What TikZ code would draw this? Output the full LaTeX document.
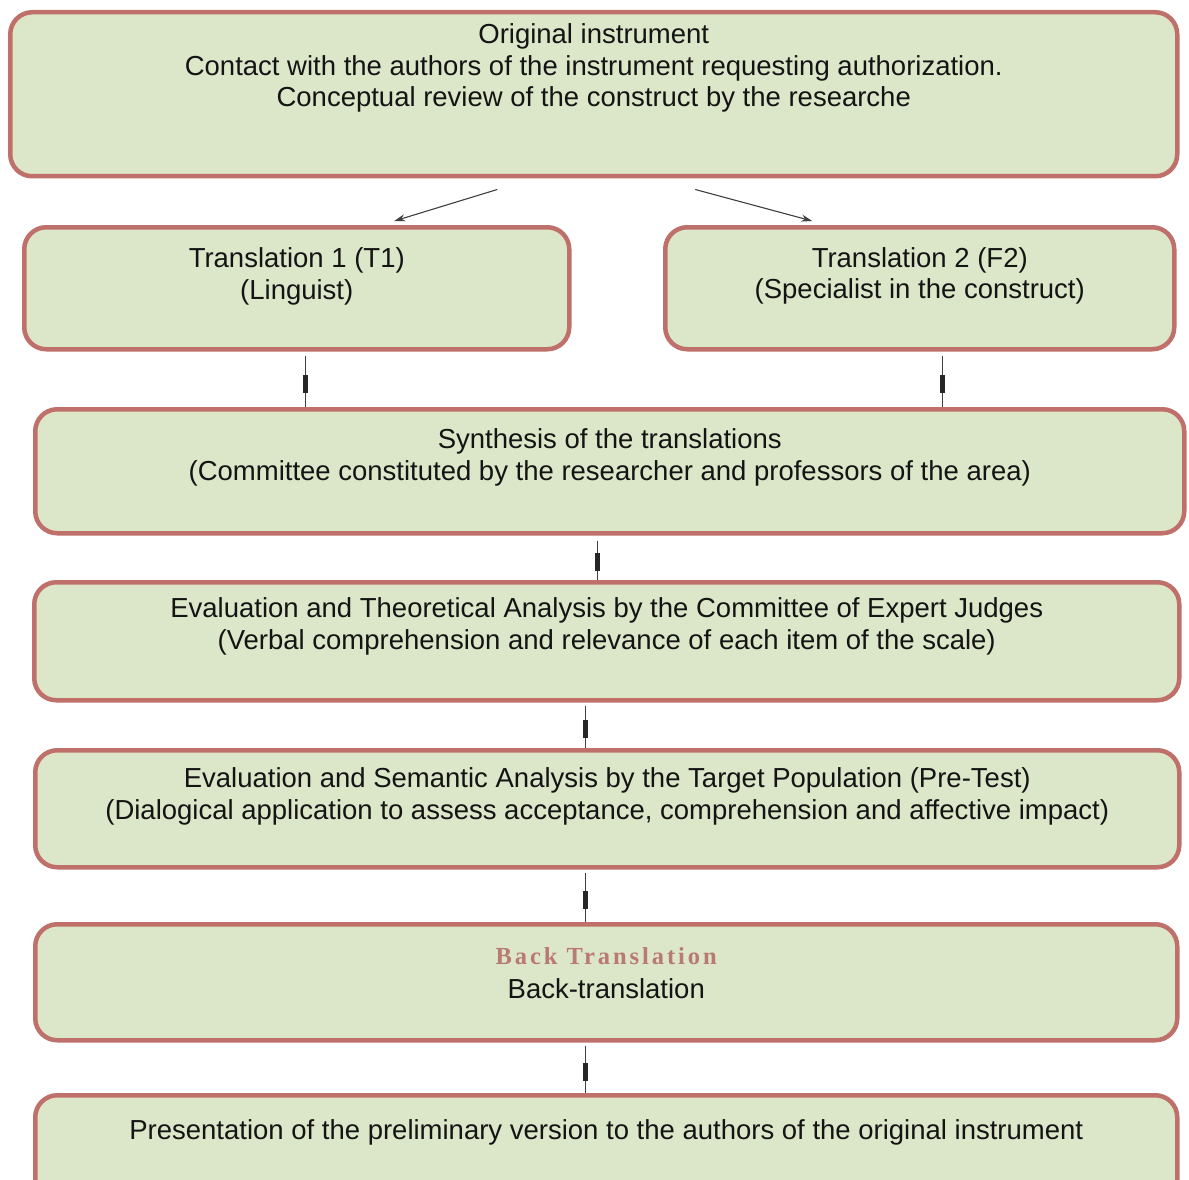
\documentclass[tikz,border=0pt]{standalone}
\usepackage{fontspec}
\setmainfont{Liberation Sans}
\newfontfamily\btfont[LetterSpace=12]{Liberation Serif}
\usetikzlibrary{arrows.meta,decorations.markings,calc}
\definecolor{bord}{RGB}{192,112,106}
\definecolor{boxfill}{RGB}{220,230,200}
\definecolor{btcol}{RGB}{185,122,116}
\definecolor{txt}{RGB}{20,20,20}
\newcommand\bxtext[4]{\parbox[t][#2pt][t]{#1pt}{\centering\fontsize{27.5pt}{31.5pt}\selectfont\rule{0pt}{#3pt}#4}}
\tikzset{
  flowbox/.style={draw=bord, line width=4.5pt, fill=boxfill, rounded corners=22pt,
    inner sep=0pt, anchor=north west, text=txt},
  arr/.style={draw=black!75, line width=1.1pt, -{Stealth[length=11pt,width=7pt]}},
  conn/.style={draw=black!75, line width=1pt, postaction={decorate},
    decoration={markings, mark=at position 0.55 with {\fill[black!85] (-9pt,-2.4pt) rectangle (9pt,2.4pt);}}}
}
\begin{document}
\begin{tikzpicture}[x=1pt,y=-1pt]
\useasboundingbox (0,0) rectangle (1189,1180);
\clip (0,0) rectangle (1189,1180);
\fill[white] (0,0) rectangle (1189,1180);

\node[flowbox] (b1) at (8,10) {\bxtext{1167}{164}{31.5}{Original instrument\\Contact with the authors of the instrument requesting authorization.\\Conceptual review of the construct by the researche}};
\node[flowbox] (t1) at (22,225) {\bxtext{545}{122}{40.5}{Translation 1 (T1)\\(Linguist)}};
\node[flowbox] (t2) at (663,225) {\bxtext{509}{122}{40}{Translation 2 (F2)\\(Specialist in the construct)}};
\node[flowbox] (syn) at (33,407) {\bxtext{1149}{124}{39.5}{Synthesis of the translations\\(Committee constituted by the researcher and professors of the area)}};
\node[flowbox] (ev) at (32,580) {\bxtext{1145}{118}{35.5}{Evaluation and Theoretical Analysis by the Committee of Expert Judges\\(Verbal comprehension and relevance of each item of the scale)}};
\node[flowbox] (sem) at (33,748) {\bxtext{1144}{117}{37.5}{Evaluation and Semantic Analysis by the Target Population (Pre-Test)\\(Dialogical application to assess acceptance, comprehension and affective impact)}};
\node[flowbox] (bt) at (33,922) {\bxtext{1142}{116}{40}{{\btfont\bfseries\fontsize{24.5pt}{26pt}\selectfont\color{btcol}Back Translation}\\[2.5pt]Back-translation}};
\node[flowbox] (pr) at (33,1093) {\bxtext{1142}{110}{44}{Presentation of the preliminary version to the authors of the original instrument}};

% diagonal arrows
\coordinate (a1s) at ([xshift=-96.5pt,yshift=-11pt]b1.south);
\coordinate (a2s) at ([xshift=101.5pt,yshift=-11pt]b1.south);
\draw[arr] (a1s) -- ([xshift=97.5pt,yshift=4pt]t1.north);
\draw[arr] (a2s) -- ([xshift=-107.5pt,yshift=4pt]t2.north);

% vertical connectors
\coordinate (c1) at ([xshift=8.5pt,yshift=-4pt]t1.south);
\coordinate (c2) at ([xshift=22.5pt,yshift=-4pt]t2.south);
\coordinate (c3) at ([xshift=-12.5pt,yshift=-5pt]syn.south);
\coordinate (c4) at ([xshift=-21.5pt,yshift=-3pt]ev.south);
\coordinate (c5) at ([xshift=-22pt,yshift=-3pt]sem.south);
\coordinate (c6) at ([xshift=-21pt,yshift=-3pt]bt.south);
\draw[conn] (c1) -- (c1 |- syn.north);
\draw[conn] (c2) -- (c2 |- syn.north);
\draw[conn] (c3) -- (c3 |- ev.north);
\draw[conn] (c4) -- (c4 |- sem.north);
\draw[conn] (c5) -- (c5 |- bt.north);
\draw[conn] (c6) -- (c6 |- pr.north);
\end{tikzpicture}
\end{document}
